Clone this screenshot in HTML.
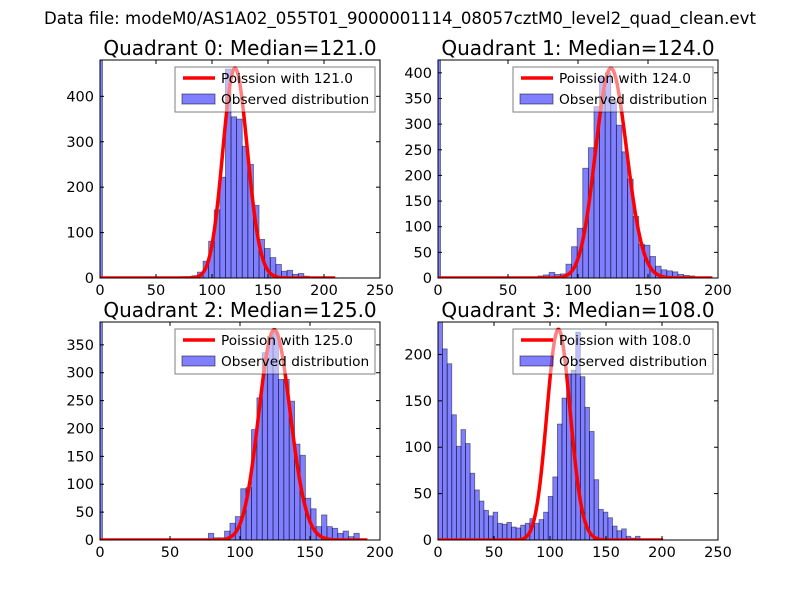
<!DOCTYPE html>
<html><head><meta charset="utf-8">
<style>
body{margin:0;background:#fff;}
svg{display:block;font-family:"DejaVu Sans","Liberation Sans",sans-serif;}
</style></head>
<body>
<svg id="fig" width="800" height="600" viewBox="0 0 800 600">
<rect width="800" height="600" fill="#fff"/>
<text x="400" y="24" text-anchor="middle" font-size="16.6">Data file: modeM0/AS1A02_055T01_9000001114_08057cztM0_level2_quad_clean.evt</text>
</svg>
<script>
// ---- data ----
const medians = [121.0, 124.0, 125.0, 108.0];
const curvePeaks = [462, 409, 377, 227];
const curveEnds = [210, 196, 191, 201];
const xMaxes = [250, 200, 200, 250];
const yMaxes = [480, 425, 391, 235];
const xTicks0 = [0, 50, 100, 150, 200, 250];
const xTicks1 = [0, 50, 100, 150, 200];
const xTicks2 = [0, 50, 100, 150, 200];
const xTicks3 = [0, 50, 100, 150, 200, 250];
const yTicks0 = [0, 100, 200, 300, 400];
const yTicks1 = [0, 50, 100, 150, 200, 250, 300, 350, 400];
const yTicks2 = [0, 50, 100, 150, 200, 250, 300, 350];
const yTicks3 = [0, 50, 100, 150, 200];
const zeroBins = [600, 600, 600, 0];
const binStarts = [72, 71.4, 77.4, 0];
const binWidths = [5, 4.0, 3.85, 4.1];
const counts0 = [3,3,5,13,37,81,150,222,460,355,350,290,250,160,85,65,45,30,15,17,8,10,4,2];
const counts1 = [4,6,11,7,8,27,61,97,214,254,334,390,400,345,298,246,193,120,66,64,42,23,16,14,12,7,5,4,2];
const counts2 = [12,4,4,16,30,42,92,94,198,255,336,365,372,288,288,249,172,152,75,56,24,45,24,21,12,16,6,12];
const counts3 = [240,206,190,135,101,119,104,72,54,42,32,26,30,18,17,19,14,13,16,18,23,18,22,30,47,68,125,153,179,183,224,176,143,117,65,33,30,24,15,10,12,4,2,4];

const allCounts = [counts0, counts1, counts2, counts3];
const allXTicks = [xTicks0, xTicks1, xTicks2, xTicks3];
const allYTicks = [yTicks0, yTicks1, yTicks2, yTicks3];
const boxes = [[100,60,380,278],[438,60,718,278],[100,322,380,540],[438,322,718,540]];
const NS = "http://www.w3.org/2000/svg";
const fig = document.getElementById('fig');
function mk(tag, attrs, parent){const e=document.createElementNS(NS,tag);for(const k in attrs)e.setAttribute(k,attrs[k]);(parent||fig).appendChild(e);return e;}
function lgamma(n){let s=0;for(let i=2;i<=n;i++)s+=Math.log(i);return s;}

for(let p=0;p<4;p++){
  const [x0,y0,x1,y1]=boxes[p];
  const xs=v=>x0+(v/xMaxes[p])*(x1-x0);
  const ys=v=>y1-(v/yMaxes[p])*(y1-y0);
  const g=mk('g',{});
  
  
  const cp=mk('clipPath',{id:'cp'+p},g);
  mk('rect',{x:x0,y:y0,width:x1-x0,height:y1-y0},cp);
  const bars=mk('g',{'clip-path':'url(#cp'+p+')'},g);
  if(zeroBins[p]>0){
    const zb=mk('rect',{x:xs(0),y:ys(zeroBins[p]),width:2.5,height:y1-ys(zeroBins[p]),fill:'#0000ff','fill-opacity':0.5,stroke:'#000','stroke-opacity':0.5,'stroke-width':0.8},bars);
    
    
  }
  const cs=allCounts[p];
  for(let i=0;i<cs.length;i++){
    const a=binStarts[p]+i*binWidths[p];
    const b=mk('rect',{x:xs(a),y:ys(cs[i]),width:xs(a+binWidths[p])-xs(a),height:y1-ys(cs[i]),fill:'#0000ff','fill-opacity':0.5,stroke:'#000','stroke-opacity':0.5,'stroke-width':0.8},bars);
    
    
  }
  const lam=medians[p];
  const lpk=Math.floor(lam)*Math.log(lam)-lam-lgamma(Math.floor(lam));
  let d='';
  for(let k=0;k<=curveEnds[p];k++){
    const lp=k*Math.log(lam)-lam-lgamma(k);
    const v=curvePeaks[p]*Math.exp(lp-lpk);
    d+=(k?'L':'M')+xs(k).toFixed(2)+','+ys(v).toFixed(2);
  }
  const c=mk('path',{d:d,fill:'none',stroke:'#ff0000','stroke-width':3.5,'stroke-linejoin':'round'},bars);
  
  
  const fr=mk('rect',{x:x0,y:y0,width:x1-x0,height:y1-y0,fill:'none',stroke:'#000','stroke-width':1},g);
  
  
  allXTicks[p].forEach(t=>{
    const x=xs(t);
    mk('line',{x1:x,x2:x,y1:y1,y2:y1-4,stroke:'#000'},g);
    mk('line',{x1:x,x2:x,y1:y0,y2:y0+4,stroke:'#000'},g);
    const tl=mk('text',{x:x,y:y1+17,'text-anchor':'middle','font-size':14.5},g);
    tl.textContent=t;
    
    
  });
  allYTicks[p].forEach(t=>{
    const y=ys(t);
    mk('line',{x1:x0,x2:x0+4,y1:y,y2:y,stroke:'#000'},g);
    mk('line',{x1:x1,x2:x1-4,y1:y,y2:y,stroke:'#000'},g);
    const tl=mk('text',{x:x0-6,y:y+5,'text-anchor':'end','font-size':14.5},g);
    tl.textContent=t;
    
    
  });
  const ti=mk('text',{x:(x0+x1)/2,y:y0-5,'text-anchor':'middle','font-size':20},g);
  ti.textContent='Quadrant '+p+': Median='+medians[p].toFixed(1);
  
  
  const lg=mk('g',{},g);
  
  
  const lx=x0+75, ly=y0+7;
  mk('rect',{x:lx,y:ly,width:200,height:45,fill:'#fff','fill-opacity':0.5,stroke:'#000','stroke-opacity':0.5,'stroke-width':1},lg);
  mk('line',{x1:lx+8,x2:lx+40,y1:ly+11,y2:ly+11,stroke:'#ff0000','stroke-width':3.5},lg);
  const t1=mk('text',{x:lx+46,y:ly+16,'font-size':13.7},lg);
  t1.textContent='Poission with '+medians[p].toFixed(1);
  
  
  mk('rect',{x:lx+7,y:ly+27,width:33,height:10,fill:'#0000ff','fill-opacity':0.5,stroke:'#000','stroke-opacity':0.5},lg);
  const t2=mk('text',{x:lx+46,y:ly+37,'font-size':13.7},lg);
  t2.textContent='Observed distribution';
  
  
}
</script>
</body></html>
